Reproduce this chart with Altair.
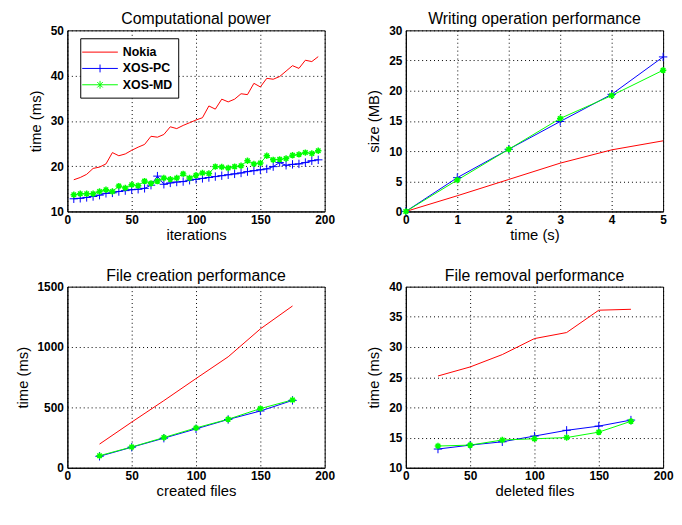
import altair as alt
import pandas as pd

FONT = "Liberation Sans"
SERIES = ["Nokia", "XOS-PC", "XOS-MD"]
COLORS = ["#ff0000", "#0000ff", "#00ff00"]

# Panel 1: Computational power
iterations = [5, 10, 15, 20, 25, 30, 35, 40, 45, 50, 55, 60, 65, 70, 75, 80, 85, 90, 95, 100,
              105, 110, 115, 120, 125, 130, 135, 140, 145, 150, 155, 160, 165, 170, 175, 180,
              185, 190, 195]
comp_nokia = [17.0, 17.5, 18.2, 19.5, 19.8, 20.5, 23.0, 22.3, 22.7, 23.5, 24.2, 24.8, 26.6,
              26.4, 27.0, 28.7, 28.3, 29.0, 29.6, 30.2, 30.7, 33.3, 32.6, 34.8, 34.2, 34.8,
              36.0, 35.8, 38.3, 37.5, 39.4, 39.2, 39.8, 41.0, 42.2, 41.6, 43.4, 43.1, 44.2]
comp_pc = [12.8, 12.9, 13.1, 13.3, 13.6, 14.0, 14.1, 14.4, 14.6, 14.8, 14.9, 15.1, 15.8, 17.8,
           16.0, 16.3, 16.5, 16.6, 16.9, 17.1, 17.3, 17.5, 17.7, 17.9, 18.1, 18.3, 18.5, 18.8,
           19.0, 19.2, 19.4, 19.9, 20.8, 20.2, 20.4, 20.5, 20.8, 21.2, 21.4]
comp_md = [13.7, 13.9, 13.9, 13.9, 14.4, 14.8, 14.4, 15.6, 15.2, 15.9, 15.7, 16.7, 16.2, 16.7,
           17.4, 17.1, 17.4, 18.3, 17.4, 18.0, 18.5, 18.4, 19.9, 19.8, 19.6, 19.9, 20.1, 21.2,
           20.5, 20.7, 22.3, 21.4, 21.5, 21.7, 22.4, 22.6, 23.0, 22.8, 23.4]

# Panel 2: Writing operation performance
write_t = [0, 1, 2, 3, 4, 5]
write_nokia = [0.0, 2.6, 5.3, 8.0, 10.2, 11.7]
write_pc = [0.0, 5.6, 10.3, 14.9, 19.4, 25.6]
write_md = [0.0, 5.2, 10.3, 15.4, 19.2, 23.4]

# Panel 3: File creation performance
created = [25, 50, 75, 100, 125, 150, 175]
create_nokia = [196, 378, 556, 739, 919, 1150, 1340]
create_pc = [95, 170, 245, 322, 400, 470, 558]
create_md = [100, 172, 250, 330, 402, 490, 562]

# Panel 4: File removal performance
deleted = [25, 50, 75, 100, 125, 150, 175]
remove_nokia = [25.2, 26.7, 28.75, 31.4, 32.4, 36.1, 36.25]
remove_pc = [13.1, 13.75, 14.3, 15.25, 16.2, 16.9, 17.9]
remove_md = [13.6, 13.75, 14.6, 14.8, 15.0, 15.9, 17.7]

PLUS = "M-1,0L1,0M0,-1L0,1"
STAR = "M-1,0L1,0M0,-1L0,1M-0.7,-0.7L0.7,0.7M-0.7,0.7L0.7,-0.7"
LEG_LINE = "M-2.4,0L2.4,0"
LEG_PLUS = "M-2.4,0L2.4,0M0,-0.53L0,0.53"
LEG_STAR = "M-2.4,0L2.4,0M0,-0.53L0,0.53M-0.37,-0.37L0.37,0.37M-0.37,0.37L0.37,-0.37"


def long_df(x, ys):
    rows = []
    for name, vals in zip(SERIES, ys):
        for xv, yv in zip(x, vals):
            rows.append({"x": xv, "y": yv, "series": name})
    return pd.DataFrame(rows)


def axis(values, title, lpad, tpad):
    return alt.Axis(values=values, title=title, labelFlush=False, labelOverlap=False,
                    ticks=False, labelPadding=lpad, format="d", titlePadding=tpad)


def panel(df, title, xtitle, ytitle, xdom, xvals, ydom, yvals, legend=False):
    base = alt.Chart(df)
    xenc = alt.X("x:Q", scale=alt.Scale(domain=xdom, nice=False, zero=False),
                 axis=axis(xvals, xtitle, 3, 2))
    yenc = alt.Y("y:Q", scale=alt.Scale(domain=ydom, nice=False, zero=False),
                 axis=axis(yvals, ytitle, 4, 7))
    layers = []
    for name, col in zip(SERIES, COLORS):
        layers.append(base.transform_filter(alt.datum.series == name).mark_line(
            strokeWidth=1, color=col).encode(x=xenc, y=yenc))
    layers.append(base.transform_filter(alt.datum.series == "XOS-PC").mark_point(
        shape=PLUS, filled=False, size=72, strokeWidth=1, color="#0000ff", opacity=1
    ).encode(x=xenc, y=yenc))
    layers.append(base.transform_filter(alt.datum.series == "XOS-MD").mark_point(
        shape=STAR, filled=False, size=42, strokeWidth=1.5, color="#00ff00", opacity=1
    ).encode(x=xenc, y=yenc))
    if legend:
        leg = alt.Legend(title=None, orient="none", legendX=13, legendY=8,
                         strokeColor="black", fillColor="white", padding=6,
                         symbolSize=225, symbolOffset=6, labelOffset=15, rowPadding=1.5,
                         symbolStrokeWidth=1, labelFontSize=12.5, labelFontWeight="bold",
                         labelFont=FONT, labelColor="black")
        layers.append(base.transform_filter("false").mark_point(
            filled=False, strokeWidth=1, opacity=1).encode(
            x=xenc, y=yenc,
            color=alt.Color("series:N", scale=alt.Scale(domain=SERIES, range=COLORS), legend=leg),
            shape=alt.Shape("series:N", scale=alt.Scale(domain=SERIES, range=[LEG_LINE, LEG_PLUS, LEG_STAR]),
                            legend=leg),
        ))
    return alt.layer(*layers).properties(
        width=260, height=183,
        title=alt.TitleParams(title, fontSize=16, fontWeight="normal", font=FONT,
                              color="black", offset=-3, anchor="middle"),
    )


p1 = panel(long_df(iterations, [comp_nokia, comp_pc, comp_md]), "Computational power",
           "iterations", "time (ms)", [0, 200], [0, 50, 100, 150, 200], [10, 50],
           [10, 20, 30, 40, 50], legend=True)
p2 = panel(long_df(write_t, [write_nokia, write_pc, write_md]), "Writing operation performance",
           "time (s)", "size (MB)", [0, 5], [0, 1, 2, 3, 4, 5], [0, 30],
           [0, 5, 10, 15, 20, 25, 30])
p3 = panel(long_df(created, [create_nokia, create_pc, create_md]), "File creation performance",
           "created files", "time (ms)", [0, 200], [0, 50, 100, 150, 200], [0, 1500],
           [0, 500, 1000, 1500])
p4 = panel(long_df(deleted, [remove_nokia, remove_pc, remove_md]), "File removal performance",
           "deleted files", "time (ms)", [0, 200], [0, 50, 100, 150, 200], [10, 40],
           [10, 15, 20, 25, 30, 35, 40])

chart = alt.concat(p1, p2, p3, p4, columns=2, spacing={"row": 76, "column": 82},
                   bounds="flush").properties(
    padding={"left": 6, "top": 0, "right": 0, "bottom": -2},
    background="white",
).configure_view(stroke="black", strokeWidth=1).configure_axis(
    grid=True, gridColor="black", gridDash=[1, 3], gridOpacity=1, gridWidth=1,
    domain=True, domainColor="black", domainWidth=1,
    labelFont=FONT, labelFontSize=12, labelFontWeight="bold", labelColor="black",
    titleFont=FONT, titleFontSize=15, titleFontWeight="normal", titleColor="black",
)

chart.save("out.html", embed_options={"renderer": "svg", "actions": False})
